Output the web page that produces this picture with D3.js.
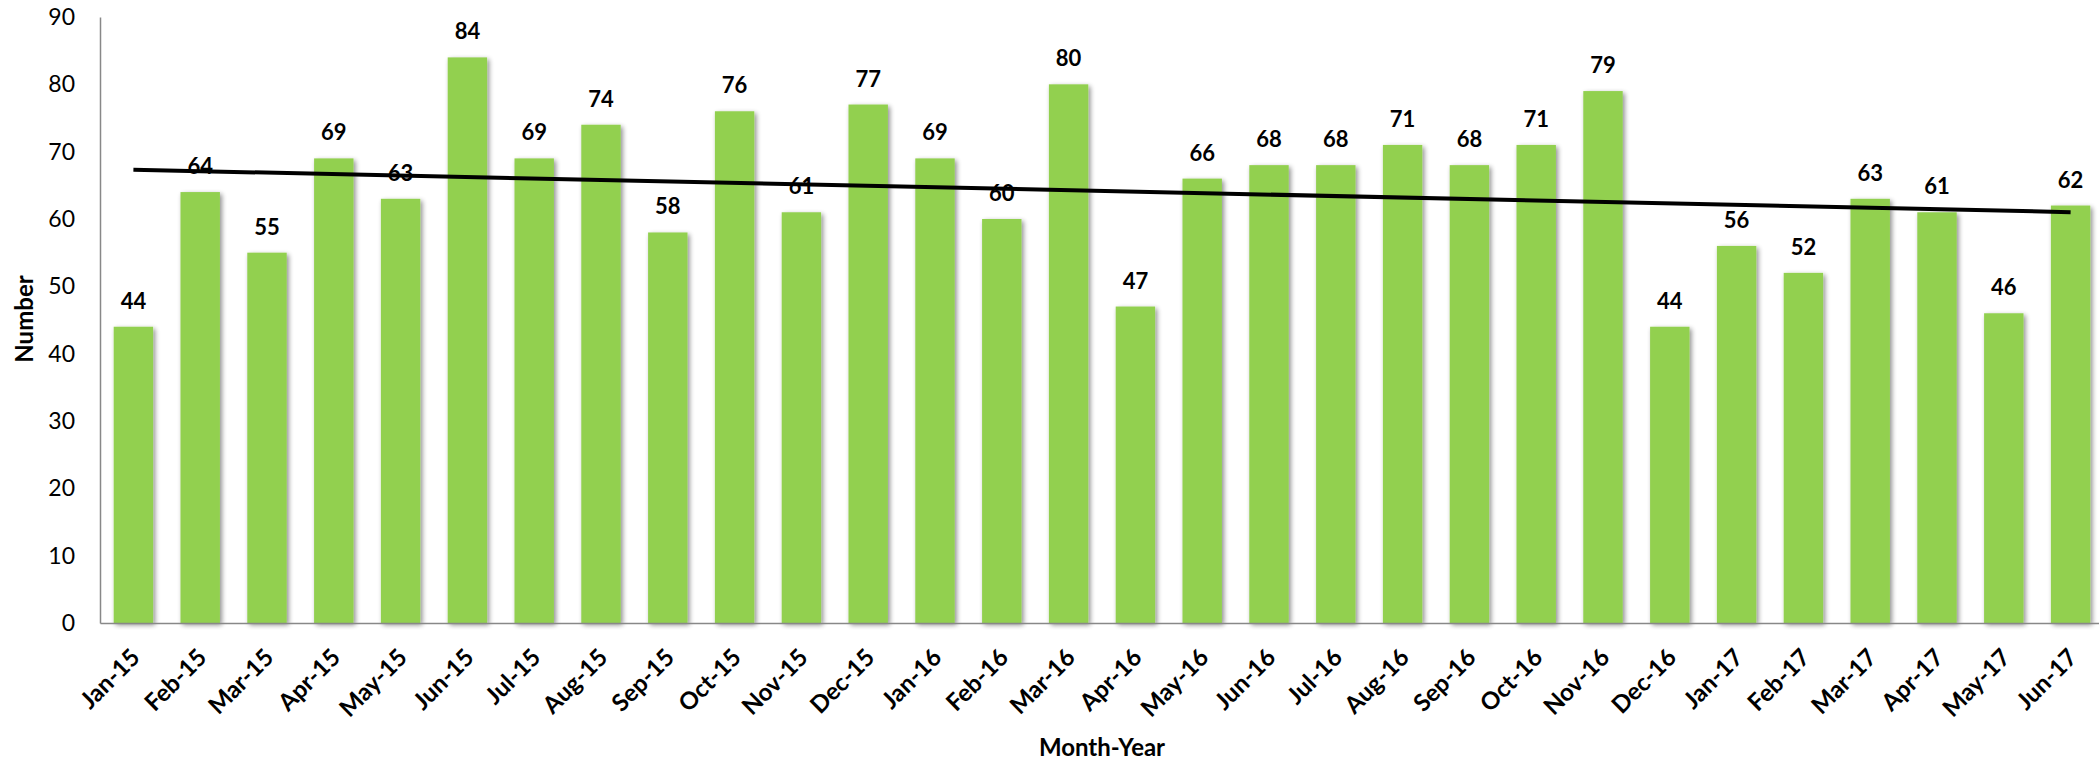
<!DOCTYPE html>
<html>
<head>
<meta charset="utf-8">
<script src="https://cdn.jsdelivr.net/npm/d3@7"></script>
<style>
  html, body { margin: 0; padding: 0; background: #fff; }
  svg { display: block; }
  text { font-family: Lato, "Open Sans", sans-serif; fill: #000; }
</style>
</head>
<body>
<svg id="chart" width="2099" height="760"></svg>
<script>
// Monthly counts, Jan 2015 – Jun 2017
const months = ["Jan-15","Feb-15","Mar-15","Apr-15","May-15","Jun-15","Jul-15","Aug-15","Sep-15","Oct-15","Nov-15","Dec-15",
                "Jan-16","Feb-16","Mar-16","Apr-16","May-16","Jun-16","Jul-16","Aug-16","Sep-16","Oct-16","Nov-16","Dec-16",
                "Jan-17","Feb-17","Mar-17","Apr-17","May-17","Jun-17"];
const counts = [44,64,55,69,63,84,69,74,58,76,61,77,
                69,60,80,47,66,68,68,71,68,71,79,44,
                56,52,63,61,46,62];
const yTicks = [0,10,20,30,40,50,60,70,80,90];

const svg = d3.select("#chart");
const plotLeft = 100, plotRight = 2104, plotTop = 17, plotBottom = 623;

const x = d3.scaleBand().domain(months).range([plotLeft, plotRight]).paddingInner(0.41).paddingOuter(0.205);
const y = d3.scaleLinear().domain([0, 90]).range([plotBottom, plotTop]);

// soft shadow behind the bars
const defs = svg.append("defs");
const f = defs.append("filter").attr("id", "barShadow")
  .attr("x", "-40%").attr("y", "-10%").attr("width", "180%").attr("height", "130%");
f.append("feGaussianBlur").attr("in", "SourceAlpha").attr("stdDeviation", 2.6).attr("result", "b");
f.append("feOffset").attr("in", "b").attr("dx", 1.5).attr("dy", 1.5).attr("result", "o");
f.append("feComponentTransfer").attr("in", "o").attr("result", "s")
  .append("feFuncA").attr("type", "linear").attr("slope", 0.45);
const m = f.append("feMerge");
m.append("feMergeNode").attr("in", "s");
m.append("feMergeNode").attr("in", "SourceGraphic");

const data = months.map((mo, i) => ({ mo, v: counts[i] }));

// bars
svg.append("g").selectAll("rect").data(data).join("rect")
  .attr("x", d => x(d.mo))
  .attr("y", d => y(d.v))
  .attr("width", x.bandwidth())
  .attr("height", d => y(0) - y(d.v))
  .attr("fill", "#92d050")
  .attr("filter", "url(#barShadow)");

// axes
const yAxis = d3.axisLeft(y).tickValues(yTicks).tickSize(0).tickPadding(25);
const gy = svg.append("g").attr("transform", `translate(${plotLeft},0)`).call(yAxis);
gy.select(".domain").attr("stroke", "#888").attr("stroke-width", 1.5);
gy.selectAll("text").style("font-size", "23px").style("font-family", "Lato, sans-serif").attr("fill", "#000");

const xAxis = d3.axisBottom(x).tickSize(0).tickPadding(0);
const gx = svg.append("g").attr("transform", `translate(0,${plotBottom})`).call(xAxis);
gx.select(".domain").attr("stroke", "#888").attr("stroke-width", 1.5);
gx.selectAll("text")
  .style("font-size", "24px").style("font-weight", "bold").style("font-family", "Lato, sans-serif")
  .attr("fill", "#000")
  .attr("text-anchor", "end")
  .attr("dy", null).attr("y", null)
  .attr("transform", "translate(8,36) rotate(-45)");

// value labels
svg.append("g").selectAll("text").data(data).join("text")
  .attr("x", d => x(d.mo) + x.bandwidth() / 2)
  .attr("y", d => y(d.v) - 18)
  .attr("text-anchor", "middle")
  .style("font-size", "22px").style("font-weight", "bold")
  .text(d => d.v);

// least-squares linear trend
const n = counts.length;
const xs = d3.range(n);
const mx = d3.mean(xs), my = d3.mean(counts);
const slope = d3.sum(xs, i => (i - mx) * (counts[i] - my)) / d3.sum(xs, i => (i - mx) ** 2);
const icpt = my - slope * mx;
const cx = i => x(months[i]) + x.bandwidth() / 2;
svg.append("line")
  .attr("x1", cx(0)).attr("y1", y(icpt))
  .attr("x2", cx(n - 1)).attr("y2", y(icpt + slope * (n - 1)))
  .attr("stroke", "#000").attr("stroke-width", 4);

// axis titles
svg.append("text")
  .attr("x", (plotLeft + plotRight) / 2).attr("y", 756)
  .attr("text-anchor", "middle")
  .style("font-size", "24px").style("font-weight", "bold")
  .text("Month-Year");
svg.append("text")
  .attr("transform", "translate(33,319) rotate(-90)")
  .attr("text-anchor", "middle")
  .style("font-size", "24px").style("font-weight", "bold")
  .text("Number");
</script>
</body>
</html>
